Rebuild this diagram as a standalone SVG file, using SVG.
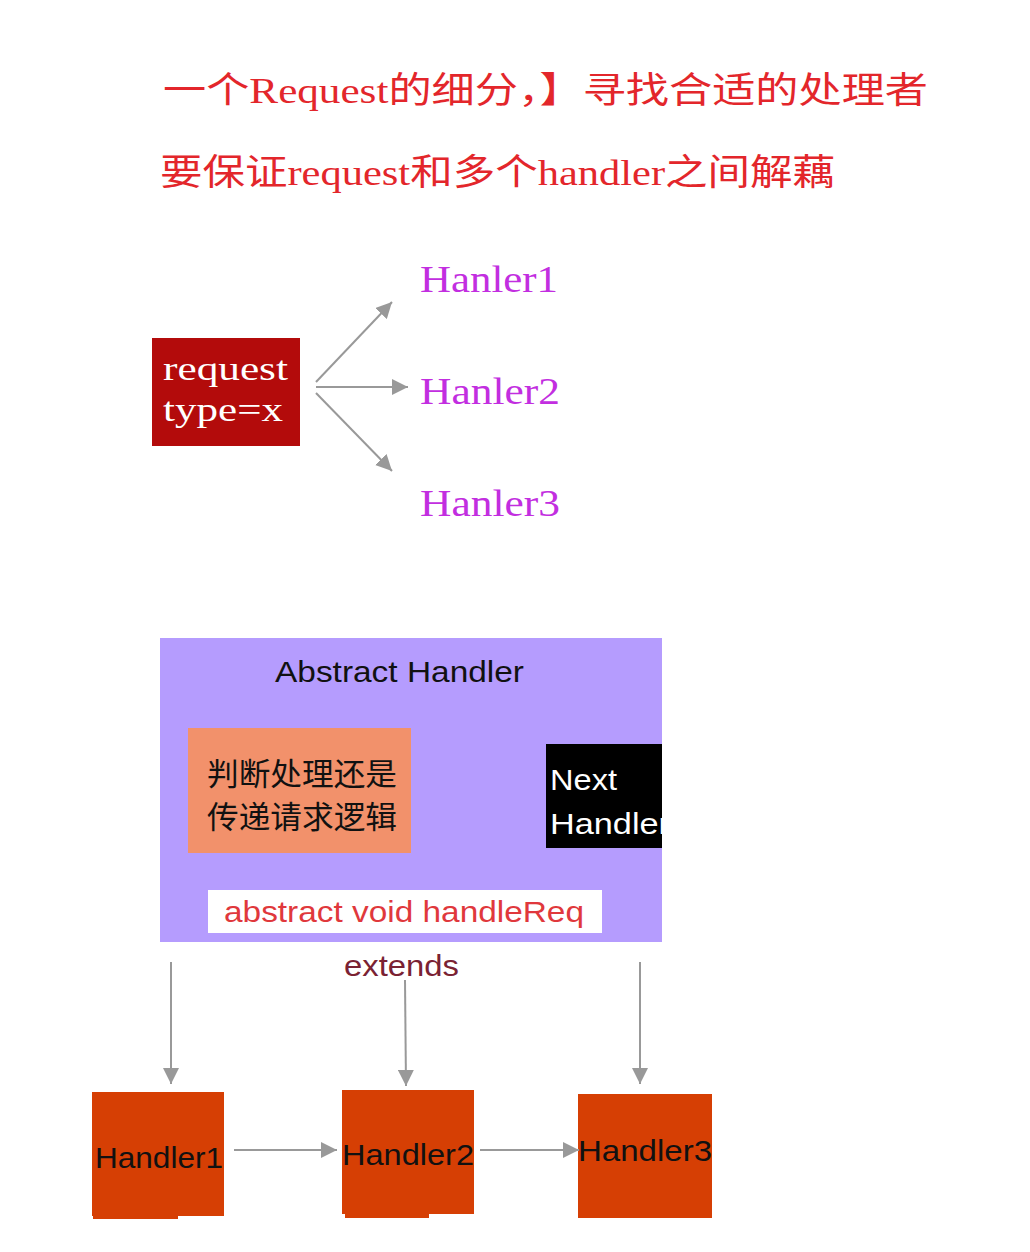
<svg xmlns="http://www.w3.org/2000/svg" width="1030" height="1252" viewBox="0 0 1030 1252">
<defs>
<marker id="ah" viewBox="0 0 10 10" refX="10" refY="5" markerWidth="8" markerHeight="8" markerUnits="strokeWidth" orient="auto">
<path d="M0,0 L10,5 L0,10 z" fill="#999999"/>
</marker>
<clipPath id="nextClip"><rect x="546" y="744" width="116" height="104"/></clipPath>
</defs>
<style>
.title{font-family:"Liberation Serif","Noto Sans CJK SC",serif;font-size:36px;fill:#e3262b}
.ser{font-family:"Liberation Serif","Noto Sans CJK SC",serif}
.sans{font-family:"Liberation Sans","Noto Sans CJK SC",sans-serif}
.hanler{font-family:"Liberation Serif",serif;font-size:37px;fill:#c22ee0}
.conn{stroke:#999999;stroke-width:2;fill:none;marker-end:url(#ah)}
.hbox{fill:#d63f04}
.htext{font-family:"Liberation Sans",sans-serif;font-size:29px;fill:#111111}
</style>
<rect width="1030" height="1252" fill="#ffffff"/>
<g id="title">
<text class="title" x="163" y="103" textLength="765" lengthAdjust="spacingAndGlyphs">一个Request的细分，】寻找合适的处理者</text>
<text class="title" x="160" y="185" textLength="675" lengthAdjust="spacingAndGlyphs">要保证request和多个handler之间解藕</text>
</g>
<g id="request">
<rect x="152" y="338" width="148" height="108" fill="#b30b0b"/>
<text class="ser" x="163" y="380" font-size="34" fill="#ffffff" textLength="125" lengthAdjust="spacingAndGlyphs">request</text>
<text class="ser" x="163" y="421" font-size="34" fill="#ffffff" textLength="120" lengthAdjust="spacingAndGlyphs">type=x</text>
</g>
<g id="hanler1"><text class="hanler" x="420" y="292" textLength="138" lengthAdjust="spacingAndGlyphs">Hanler1</text></g>
<g id="hanler2"><text class="hanler" x="420" y="404" textLength="140" lengthAdjust="spacingAndGlyphs">Hanler2</text></g>
<g id="hanler3"><text class="hanler" x="420" y="516" textLength="140" lengthAdjust="spacingAndGlyphs">Hanler3</text></g>
<g id="abstract-handler">
<rect x="160" y="638" width="502" height="304" fill="#b59cfe"/>
<text class="sans" x="275" y="682" font-size="29" fill="#111111" textLength="249" lengthAdjust="spacingAndGlyphs">Abstract Handler</text>
</g>
<g id="logic">
<rect x="188" y="728" width="223" height="125" fill="#f2916b"/>
<text class="sans" x="207" y="785" font-size="31" fill="#111111" textLength="190" lengthAdjust="spacingAndGlyphs">判断处理还是</text>
<text class="sans" x="207" y="828" font-size="31" fill="#111111" textLength="190" lengthAdjust="spacingAndGlyphs">传递请求逻辑</text>
</g>
<g id="next-handler">
<rect x="546" y="744" width="116" height="104" fill="#000000"/>
<g clip-path="url(#nextClip)">
<text class="sans" x="550" y="790" font-size="29" fill="#ffffff" textLength="67" lengthAdjust="spacingAndGlyphs">Next</text>
<text class="sans" x="550" y="834" font-size="29" fill="#ffffff" textLength="120" lengthAdjust="spacingAndGlyphs">Handler</text>
</g>
</g>
<g id="handle-req">
<rect x="208" y="890" width="394" height="43" fill="#ffffff"/>
<text class="sans" x="224" y="922" font-size="29" fill="#e0383c" textLength="360" lengthAdjust="spacingAndGlyphs">abstract void handleReq</text>
</g>
<g id="extends-label"><text class="sans" x="344" y="976" font-size="29" fill="#7a2233" textLength="115" lengthAdjust="spacingAndGlyphs">extends</text></g>
<g id="handler1">
<rect class="hbox" x="92" y="1092" width="132" height="124"/>
<rect class="hbox" x="93" y="1214" width="85" height="5"/>
<text class="htext" x="95" y="1168" textLength="128" lengthAdjust="spacingAndGlyphs">Handler1</text>
</g>
<g id="handler2">
<rect class="hbox" x="342" y="1090" width="132" height="124"/>
<rect class="hbox" x="345" y="1212" width="84" height="6"/>
<text class="htext" x="342" y="1165" textLength="132" lengthAdjust="spacingAndGlyphs">Handler2</text>
</g>
<g id="handler3">
<rect class="hbox" x="578" y="1094" width="134" height="124"/>
<text class="htext" x="578" y="1161" textLength="134" lengthAdjust="spacingAndGlyphs">Handler3</text>
</g>
<g id="connectors">
<line class="conn" x1="316" y1="382" x2="392" y2="302"/>
<line class="conn" x1="316" y1="387" x2="408" y2="387"/>
<line class="conn" x1="316" y1="393" x2="392" y2="471"/>
<line class="conn" x1="171" y1="962" x2="171" y2="1084"/>
<line class="conn" x1="405" y1="980" x2="406" y2="1086"/>
<line class="conn" x1="640" y1="962" x2="640" y2="1084"/>
<line class="conn" x1="234" y1="1150" x2="337" y2="1150"/>
<line class="conn" x1="480" y1="1150" x2="579" y2="1150"/>
</g>
</svg>
